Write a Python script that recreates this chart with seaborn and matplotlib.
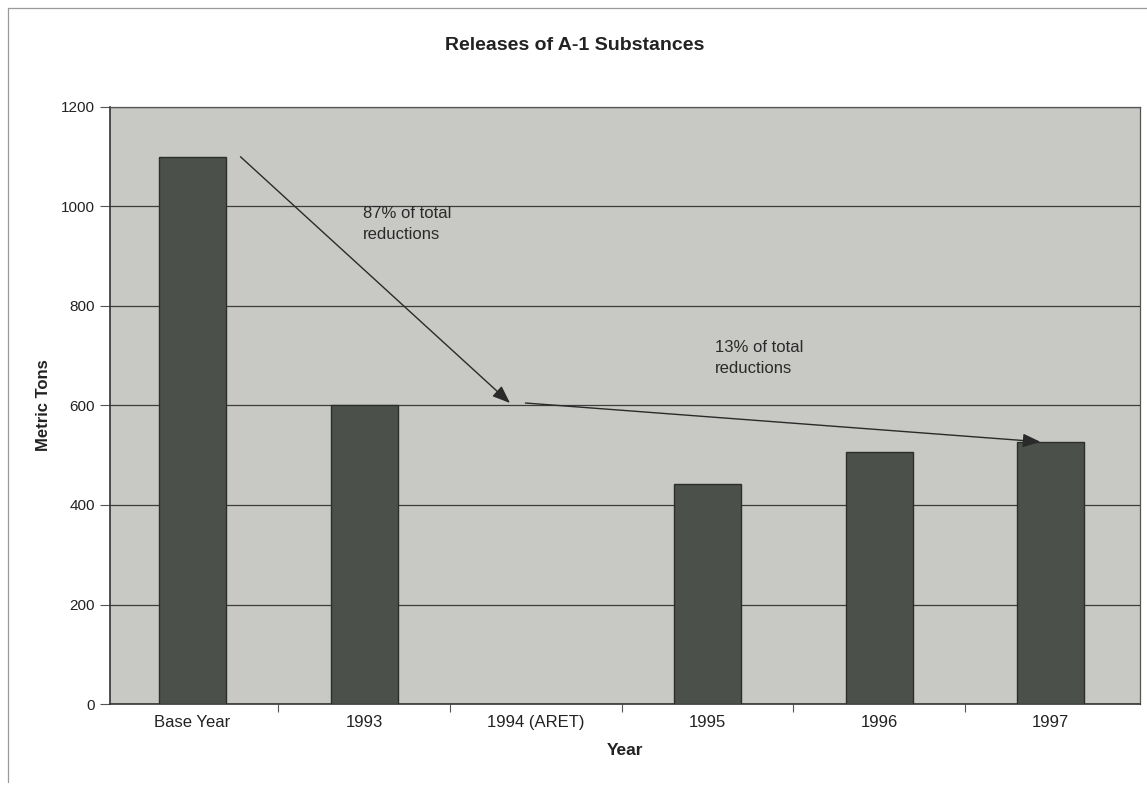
import matplotlib
matplotlib.use("Agg")
import matplotlib.pyplot as plt
import seaborn as sns
import pandas as pd
import numpy as np
from matplotlib.lines import Line2D

categories = ["Base Year", "1993", "1994 (ARET)", "1995", "1996", "1997"]
values = [1100, 600, np.nan, 442, 506, 527]
y_ticks = [0, 200, 400, 600, 800, 1000, 1200]

df = pd.DataFrame({"Year": categories, "Metric Tons": values})

sns.set_theme(style="white")
plt.rcParams["font.family"] = ["Liberation Sans", "DejaVu Sans"]

fig = plt.figure(figsize=(11.47, 7.86), dpi=100)
ax = fig.add_axes([110/1147, 1-704/786, (1140-110)/1147, (704-107)/786])
ax.set_facecolor("#c8c8c5")

sns.barplot(data=df, x="Year", y="Metric Tons", order=categories, ax=ax,
            color="#4b504b", width=0.39, edgecolor="#2c2e2c", linewidth=1.0,
            saturation=1, zorder=3)

ax.set_ylim(0, 1200)
ax.set_xlim(-0.48, 5.52)
ax.set_yticks(y_ticks)
ax.yaxis.grid(True, color="#3c3c3c", linewidth=0.9, zorder=1)
ax.set_axisbelow(True)
ax.tick_params(axis="y", which="major", length=7, width=0.8, color="#555555",
               labelsize=11, labelcolor="#222222", left=True, pad=4)
ax.set_xticks(range(len(categories)))
ax.set_xticklabels(categories)
ax.set_xticks(np.arange(0.5, 5.5, 1.0), minor=True)
ax.tick_params(axis="x", which="major", length=0, labelsize=12,
               labelcolor="#222222", pad=8)
ax.tick_params(axis="x", which="minor", length=6, width=0.8, color="#555555",
               bottom=True)
for s in ["left", "bottom"]:
    ax.spines[s].set_color("#333333")
    ax.spines[s].set_linewidth(1.2)
for s in ["top", "right"]:
    ax.spines[s].set_color("#555555")
    ax.spines[s].set_linewidth(0.9)

ax.set_xlabel("Year", fontsize=12.5, fontweight="bold", color="#222222", labelpad=9)
ax.set_ylabel("Metric Tons", fontsize=12, fontweight="bold", color="#222222", labelpad=7)
fig.text(575/1147, 1-45/786, "Releases of A-1 Substances", ha="center", va="center",
         fontsize=14, fontweight="bold", color="#222222")

arrow_style = dict(arrowstyle="-|>,head_length=0.9,head_width=0.35",
                   color="#2a2a2a", lw=1.0, shrinkA=0, shrinkB=0)
ax.annotate("", xy=(1.85, 605), xytext=(0.28, 1100), arrowprops=arrow_style, zorder=5)
ax.annotate("", xy=(4.94, 527), xytext=(1.94, 605), arrowprops=arrow_style, zorder=5)

ax.text(0.995, 1002, "87% of total\nreductions", fontsize=12, color="#2a2a2a",
        va="top", ha="left", linespacing=1.5, zorder=6)
ax.text(3.045, 732, "13% of total\nreductions", fontsize=12, color="#2a2a2a",
        va="top", ha="left", linespacing=1.5, zorder=6)

fig.add_artist(Line2D([8/1147, 8/1147], [1-8/786, 1-782/786], color="#9a9a9a", lw=0.9))
fig.add_artist(Line2D([8/1147, 1], [1-8/786, 1-8/786], color="#9a9a9a", lw=0.9))

fig.savefig("out.png", dpi=100)
